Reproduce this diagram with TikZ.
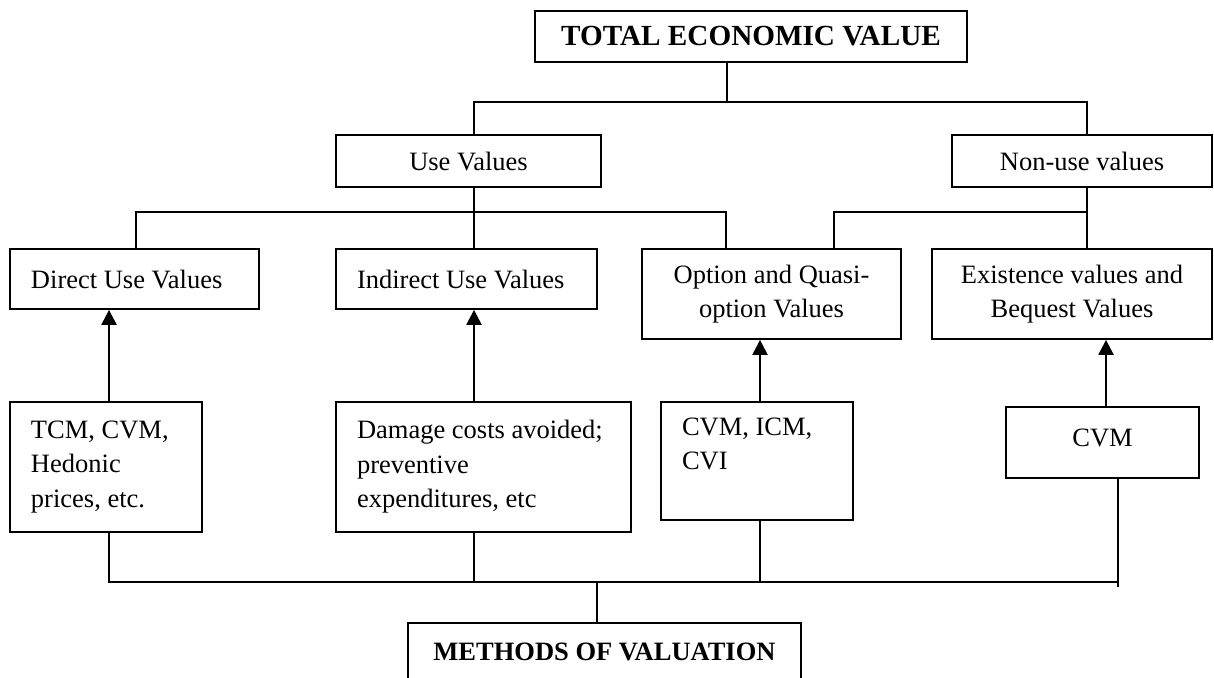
\documentclass[tikz,border=0pt]{standalone}
\usepackage{fontspec}
\setmainfont{Liberation Serif}
\usetikzlibrary{arrows.meta}
\begin{document}
\begin{tikzpicture}[x=0.5pt,y=-0.5pt,
  box/.style={draw, line width=0.9pt, inner sep=0pt, font=\fontsize{13.25pt}{17.25pt}\selectfont},
  lbox/.style={box, align=flush left, inner xsep=10.5pt},
  cbox/.style={box, align=flush center},
  bfbox/.style={cbox, font=\fontsize{#1}{17pt}\selectfont\bfseries},
  ln/.style={line width=0.8pt},
  arr/.style={line width=1.2pt, -{Triangle[length=7.5pt,width=7.5pt]}}]
\useasboundingbox (0,0) rectangle (1214,677);
% boxes
\node[bfbox=14.6pt, minimum width=216pt, minimum height=25.5pt] (tev) at (751,36.5) {TOTAL ECONOMIC VALUE};
\node[cbox, minimum width=132.5pt, minimum height=26pt] (uv) at (468.5,161) {Use Values};
\node[cbox, minimum width=130pt, minimum height=26pt] (nu) at (1082,161) {Non-use values};
\node[lbox, text width=103.5pt, minimum height=30pt] (dir) at (134.5,279) {Direct Use Values};
\node[lbox, text width=109.5pt, minimum height=30pt] (ind) at (466.5,279) {Indirect Use Values};
\node[cbox, minimum width=129.5pt, minimum height=45pt] (opt) at (771.5,294) {Option and Quasi-\\option Values};
\node[cbox, minimum width=140pt, minimum height=45pt] (exi) at (1072,294) {Existence values and\\Bequest Values};
\node[lbox, text width=75pt, minimum height=65pt] (tcm) at (106,467) {TCM, CVM,\\Hedonic\\prices, etc.};
\node[lbox, text width=126.5pt, minimum height=65pt] (dmg) at (483.5,467) {Damage costs avoided;\\preventive\\expenditures, etc};
\node[lbox, text width=75pt, minimum height=59pt] (cic) at (757,461) {CVM, ICM,\\CVI\\\mbox{}};
\node[cbox, minimum width=96.5pt, minimum height=35.5pt] (cvm) at (1102.5,442.5) {\raisebox{4.5pt}{CVM}};
\node[bfbox=13.25pt, minimum width=196.5pt, minimum height=28.5pt] (mov) at (604.5,651.5) {METHODS OF VALUATION};
% level 1 connectors
\coordinate (k727) at (727,102);
\coordinate (k474) at (474,102);
\coordinate (k1087) at (1087,102);
\draw[ln] (tev.south -| k727) -- (k727);
\draw[ln] (uv.north -| k474) -- (k474) -- (k1087) -- (nu.north -| k1087);
% level 2 connectors
\coordinate (m136) at (136,212);
\coordinate (m474) at (474,212);
\coordinate (m726) at (726,212);
\coordinate (m834) at (834,212);
\coordinate (m1087) at (1087,212);
\draw[ln] (uv.south -| m474) -- (m474);
\draw[ln] (dir.north -| m136) -- (m136) -- (m726) -- (opt.north -| m726);
\draw[ln] (m474) -- (ind.north -| m474);
\draw[ln] (nu.south -| m1087) -- (exi.north -| m1087);
\draw[ln] (opt.north -| m834) -- (m834) -- (m1087);
% arrows
\coordinate (a109) at (109,0);
\coordinate (a474) at (474,0);
\coordinate (a760) at (760,0);
\coordinate (a1106) at (1106,0);
\draw[arr] (tcm.north -| a109) -- (dir.south -| a109);
\draw[arr] (dmg.north -| a474) -- (ind.south -| a474);
\draw[arr] (cic.north -| a760) -- (opt.south -| a760);
\draw[arr] (cvm.north -| a1106) -- (exi.south -| a1106);
% bottom connectors
\coordinate (b109) at (109,582);
\coordinate (b474) at (474,582);
\coordinate (b597) at (597,582);
\coordinate (b760) at (760,582);
\coordinate (b1118) at (1118,582);
\coordinate (e1118) at (1118,587);
\draw[ln] (tcm.south -| b109) -- (b109) -- (b1118);
\draw[ln] (dmg.south -| b474) -- (b474);
\draw[ln] (cic.south -| b760) -- (b760);
\draw[ln] (cvm.south -| e1118) -- (e1118);
\draw[ln] (b597) -- (mov.north -| b597);
\end{tikzpicture}
\end{document}
